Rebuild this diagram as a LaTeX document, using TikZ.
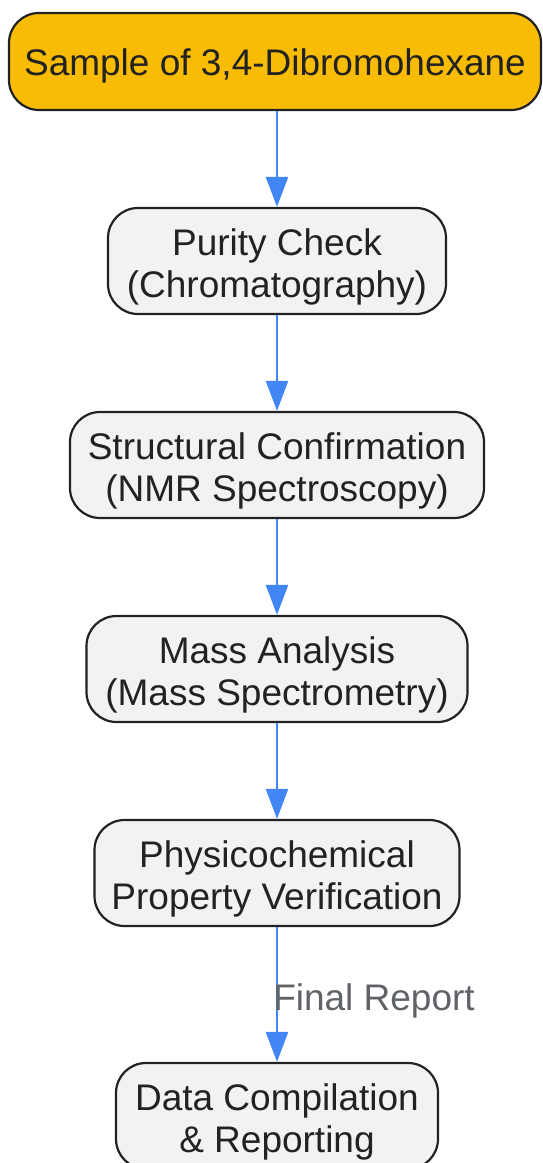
\documentclass[tikz,border=0pt]{standalone}
\usepackage{fontspec}
\setmainfont{Liberation Sans}
\usetikzlibrary{shapes, arrows.meta, calc, positioning}
\definecolor{gsample}{HTML}{F9BC05}
\definecolor{gbox}{HTML}{F1F2F4}
\definecolor{gflow}{HTML}{4285F4}
\definecolor{gink}{HTML}{222222}
\definecolor{glabel}{HTML}{5F6368}

\begin{document}
\begin{tikzpicture}[x=1pt, y=-1pt]%{{{
        \useasboundingbox (0, 0) rectangle (542, 1163);

        \tikzstyle{s} = [draw=gink, line width=2.2pt, rounded corners=30pt, fill=gbox, text=gink,
            align=center, font=\fontsize{37}{42}\selectfont, minimum height=106pt, inner sep=0pt,
            text height=80pt, text depth=8pt];
        \tikzstyle{a} = [draw=gflow, line width=2.5pt, -{Triangle[length=30pt, width=22pt]}];
        \tikzstyle{l} = [text=glabel, font=\fontsize{37}{42}\selectfont, inner sep=0pt];

        \node [s, fill=gsample, minimum width=532pt, minimum height=97pt, text height=36.5pt] (S) at (275, 61.5) {Sample of 3,4-Dibromohexane};
        \node [s, minimum width=338pt] (N1) at (277, 261)  {Purity Check\\(Chromatography)};
        \node [s, minimum width=414pt] (N2) at (277, 465)  {Structural Confirmation\\(NMR Spectroscopy)};
        \node [s, minimum width=381pt] (N3) at (277, 669)  {Mass Analysis\\(Mass Spectrometry)};
        \node [s, minimum width=365pt] (N4) at (277, 873)  {Physicochemical\\Property Verification};
        \node [s, minimum width=322pt] (N5) at (277, 1116) {Data Compilation\\\& Reporting};

        \draw [a] (S.south -| N1.north) -- (N1.north);
        \foreach \na [count=\nb from 2] in {1, ..., 3}{
            \draw [a] (N\na.south) -- (N\nb.north);
        }
        \draw [a] (N4.south) -- node [l, anchor=west, xshift=-5pt, yshift=-6pt] (F) {Final Report} (N5.north);
    \end{tikzpicture}
\end{document}
